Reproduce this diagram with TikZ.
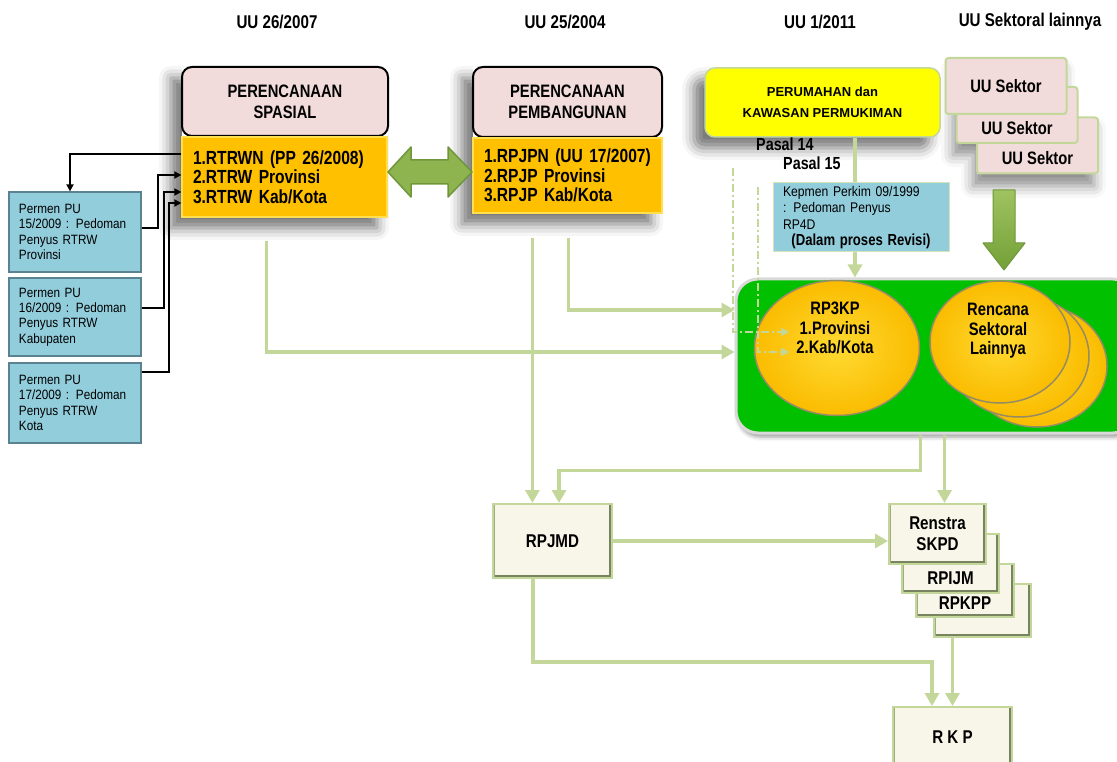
\documentclass[tikz,border=0pt]{standalone}
\usepackage{fontspec}
\setmainfont{Liberation Sans}
\newfontfamily\cbf[FakeStretch=0.82]{Liberation Sans}
\newfontfamily\cnr[FakeStretch=0.87]{Liberation Sans}
\usetikzlibrary{arrows.meta,shapes.geometric,shadows.blur,calc}
\newcommand\setfs[2]{\fontsize{#1}{#2}\selectfont}

\definecolor{conn}{RGB}{196,215,155}
\definecolor{pinkc}{RGB}{242,220,219}
\definecolor{orangec}{RGB}{255,192,0}
\definecolor{orangeedge}{RGB}{255,222,80}
\definecolor{bluec}{RGB}{146,205,220}
\definecolor{blueedge}{RGB}{90,130,145}
\definecolor{zoneg}{RGB}{0,192,0}
\definecolor{gold1}{RGB}{255,218,50}
\definecolor{gold2}{RGB}{250,188,0}
\definecolor{goldedge}{RGB}{150,140,100}
\definecolor{creamc}{RGB}{248,246,232}
\definecolor{bevdark}{RGB}{120,132,95}
\definecolor{bevmid}{RGB}{160,172,130}
\definecolor{arrowg}{RGB}{142,180,80}
\definecolor{arrowgd}{RGB}{112,150,60}
\definecolor{arrowtop}{RGB}{160,195,95}
\definecolor{arrowbot}{RGB}{115,160,55}
\definecolor{yellowc}{RGB}{255,255,0}

\begin{document}
\begin{tikzpicture}[x=1pt,y=-1pt,
  hdr/.style={font=\cbf\bfseries\setfs{18.5}{20}, inner sep=0},
  titlebox/.style={rectangle, rounded corners=10pt, fill=pinkc, draw=black,
    line width=2pt, align=center, font=\cbf\bfseries\setfs{18}{21}},
  listbox/.style={rectangle, fill=orangec, draw=orangeedge, line width=1.2pt,
    align=left, inner sep=0, font=\cbf\bfseries\setfs{19}{19.5}},
  permen/.style={rectangle, fill=bluec, draw=blueedge, line width=1.2pt,
    minimum width=132, minimum height=80, text width=112, align=left,
    inner sep=0, font=\cnr\setfs{13.5}{15.3}},
  housebox/.style={rectangle, rounded corners=10pt, fill=yellowc, draw=conn,
    line width=1.5pt, minimum width=235, minimum height=69, align=center,
    font=\bfseries\setfs{13}{21}},
  pasal/.style={inner sep=0, font=\cbf\bfseries\setfs{17.5}{18}},
  kepbox/.style={rectangle, fill=bluec, draw=conn!70!white, line width=1pt,
    minimum width=176, minimum height=69, text width=156, align=left,
    inner sep=0, font=\cnr\setfs{14}{16.3}},
  sektor/.style={rectangle, rounded corners=3pt, fill=pinkc, draw=conn,
    line width=2pt, minimum width=121, minimum height=56,
    font=\cbf\bfseries\setfs{18}{19}},
  sektext/.style={font=\cbf\bfseries\setfs{18}{19}},
  zonebox/.style={rectangle, rounded corners=22pt, fill=zoneg,
    draw=white!85!black, line width=3pt, minimum width=399, minimum height=154},
  goldell/.style={ellipse, shade, inner color=gold1, outer color=gold2,
    draw=goldedge, line width=1.5pt, inner sep=0},
  elltext/.style={align=center, inner sep=0, font=\cbf\bfseries\setfs{18}{19.5}},
  bevel/.style={rectangle, fill=creamc, draw=conn, line width=2pt,
    align=center, font=\cbf\bfseries\setfs{18.5}{21},
    path picture={
      \draw[bevdark, line width=7pt]
        (path picture bounding box.north east) --
        (path picture bounding box.south east) --
        (path picture bounding box.south west);
      \draw[bevmid, line width=4pt]
        (path picture bounding box.south west) --
        (path picture bounding box.north west);}},
  bevtext/.style={font=\cbf\bfseries\setfs{18.5}{21}},
  boxshadow/.style={blur shadow={shadow xshift=-11pt, shadow yshift=-11pt,
    shadow blur radius=12pt, shadow opacity=55}},
  garr/.style={draw=conn, line width=3.5pt,
    -{Triangle[width=14pt,length=13pt]}},
  gline/.style={draw=conn, line width=3.5pt},
  barr/.style={draw=black, line width=1.8pt,
    -{Triangle[width=7pt,length=7pt]}},
  dline/.style={draw=conn, line width=2pt,
    dash pattern=on 8pt off 3pt on 2pt off 3pt,
    -{Triangle[width=8pt,length=8pt]}},
]
\useasboundingbox (0,0) rectangle (1117,762);

% column headings
\node[hdr] (h1) at (277,22) {UU 26/2007};
\node[hdr] (h2) at (565,22) {UU 25/2004};
\node[hdr] (h3) at (820,22) {UU 1/2011};
\node[hdr] (h4) at (1030,22) {UU Sektoral lainnya};

% soft shadows behind the upper blocks
\path[fill=white, boxshadow] (182,67) rectangle (388,217);
\path[fill=white, boxshadow] (473,67) rectangle (662,213);
\path[fill=white, boxshadow, rounded corners=10pt] (705,68) rectangle (940,137);
\path[fill=white, blur shadow={shadow xshift=-4pt, shadow yshift=-12pt,
    shadow blur radius=12pt, shadow opacity=45}]
  (957,58) -- (1067,58) -- (1067,117) -- (1098,117) -- (1098,174)
  -- (977,174) -- (977,143) -- (957,143) -- cycle;
\path[fill=white, blur shadow={shadow xshift=2pt, shadow yshift=-4pt,
    shadow blur radius=4pt, shadow opacity=40}, rounded corners=22pt]
  (736,279) rectangle (1135,433);

% spatial planning
\node[titlebox, minimum width=206, minimum height=69] (sp) at (285,101.5)
  {PERENCANAAN\\SPASIAL};
\node[listbox, minimum width=205, minimum height=80, text width=183] (spo)
  at (284.5,177) {1.RTRWN (PP 26/2008)\\2.RTRW Provinsi\\3.RTRW Kab/Kota};

% development planning
\node[titlebox, minimum width=189, minimum height=70] (pb) at (567.5,102)
  {PERENCANAAN\\PEMBANGUNAN};
\node[listbox, minimum width=189, minimum height=75, text width=167] (pbo)
  at (567.5,175.5) {1.RPJPN (UU 17/2007)\\2.RPJP Provinsi\\3.RPJP Kab/Kota};

% two-way block arrow between the plans
\filldraw[fill=arrowg, draw=arrowgd, line width=1.5pt, line join=round]
  (388,172) -- (411,147) -- (411,160) -- (448,160) -- (448,147) -- (472,172)
  -- (448,197) -- (448,184) -- (411,184) -- (411,197) -- cycle;

% ministerial guidelines
\node[permen] (p1) at (75,232) {Permen PU\\15/2009 : Pedoman\\Penyus RTRW\\Provinsi};
\node[permen, minimum height=78] (p2) at (75,317) {Permen PU\\16/2009 : Pedoman\\Penyus RTRW\\Kabupaten};
\node[permen] (p3) at (75,403) {Permen PU\\17/2009 : Pedoman\\Penyus RTRW\\Kota};

% housing and settlement
\node[housebox] (pkp) at (822.5,102.5) {PERUMAHAN dan\\KAWASAN PERMUKIMAN};
\node[pasal, anchor=west] (ps14) at (756,144) {Pasal 14};
\node[pasal, anchor=west] (ps15) at (783,163) {Pasal 15};
\node[kepbox] (kep) at (861,217.5) {Kepmen Perkim 09/1999\\: Pedoman Penyus\\RP4D\\\makebox[156pt][c]{\cbf\bfseries\setfs{16}{16.3}(Dalam proses Revisi)}};

% sectoral laws
\node[sektor, label={[sektext, yshift=-12.5pt]center:UU Sektor}] (s3) at (1037.5,145.5) {};
\node[sektor, label={[sektext, yshift=-13pt]center:UU Sektor}] (s2) at (1017,115) {};
\node[sektor] (s1) at (1006,86) {UU Sektor};

\path[top color=arrowtop, bottom color=arrowbot, draw=arrowgd, line width=1pt,
      line join=round]
  (993,190) -- (1015,190) -- (1015,243) -- (1025,243) -- (1004,270)
  -- (983,243) -- (993,243) -- cycle;

% plans area
\node[zonebox] (zone) at (935.5,356) {};
\node[goldell, minimum width=165, minimum height=135] (e1) at (837,348) {};
\node[elltext] (e1t) at (835,328) {RP3KP\\1.Provinsi\\2.Kab/Kota};
\node[goldell, minimum width=140, minimum height=122] (e4) at (1037,366) {};
\node[goldell, minimum width=140, minimum height=122] (e3) at (1019,356) {};
\node[goldell, minimum width=140, minimum height=122] (e2) at (1000,342) {};
\node[elltext] (e2t) at (998,331) {Rencana\\Sektoral\\Lainnya};

% medium-term and annual plans
\node[bevel, minimum width=119, minimum height=74] (rpjmd) at (552.5,541) {RPJMD};
\node[bevel, minimum width=97, minimum height=53] (r4) at (982.5,610.5) {};
\node[bevel, minimum width=98, minimum height=53,
      label={[bevtext, yshift=-12.5pt]center:RPKPP}] (r3) at (965,590.5) {};
\node[bevel, minimum width=97, minimum height=59,
      label={[bevtext, yshift=-14.5pt]center:RPIJM}] (r2) at (950.5,563.5) {};
\node[bevel, minimum width=97, minimum height=60] (r1) at (937.5,534) {Renstra\\SKPD};
\node[bevel, minimum width=119, minimum height=60] (rkp) at (952.5,737) {R K P};

% black guideline links
\coordinate (sa0) at ($(spo.north west)+(0,18)$);
\draw[barr] (sa0) -| ($(p1.north)+(-5,0)$);
\draw[barr] ($(p1.east)+(0,-4)$) -- ++(16,0) |- ($(spo.west)+(0,-2)$);
\draw[barr] ($(p2.east)+(0,-9)$) -- ++(22,0) |- ($(spo.west)+(0,15)$);
\draw[barr] ($(p3.east)+(0,-31)$) -- ++(27,0) |- ($(spo.west)+(0,26)$);

% green flow connectors
\coordinate (spd) at ($(spo.south west)+(85,23)$);
\coordinate (pbd1) at ($(pbo.south west)+(60,24)$);
\coordinate (pbd2) at ($(pbo.south west)+(96,24)$);
\coordinate (zin1) at ($(zone.west)+(0,-46)$);
\coordinate (zin2) at ($(zone.west)+(0,-4)$);
\coordinate (zb1) at ($(zone.south west)+(186,0)$);
\coordinate (zb2) at ($(zone.south west)+(210,0)$);
\coordinate (rpd) at ($(rpjmd.south)+(-19.5,0)$);
\coordinate (rpin) at ($(rpjmd.north)+(6.5,0)$);
\coordinate (rkin) at ($(rkp.north)+(-20.5,0)$);
\coordinate (pk1) at ($(kep.north)+(-6,0)$);

\draw[garr] (spd) |- (zin2);
\draw[garr] (pbd2) |- (zin1);
\draw[garr] (pbd1) -- (pbd1 |- rpjmd.north);
\draw[garr] (zb1) -- ++(0,36) -| (rpin);
\draw[garr] (zb2) -- (zb2 |- r1.north);
\draw[garr] (rpjmd.east) -- (rpjmd.east -| r1.west);
\draw[garr] (rpd) -- ++(0,83) -| (rkin);
\draw[garr] (rkp.north |- r4.south) -- (rkp.north);
\draw[gline] (pk1 |- pkp.south) -- (pk1);
\draw[garr] (pk1 |- kep.south) -- (pk1 |- zone.north);

% dashed article links
\coordinate (d14) at (733,168);
\coordinate (d15) at (758,187);
\draw[dline] (d14) |- ($(e1.west)+(35.5,-16)$);
\draw[dline] (d15) |- ($(e1.west)+(35.5,4)$);
\end{tikzpicture}
\end{document}
